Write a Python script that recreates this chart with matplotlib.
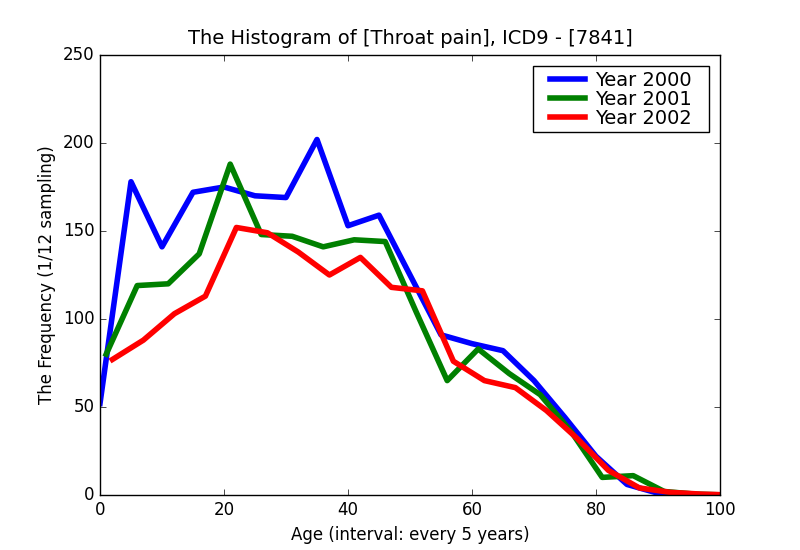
import matplotlib
matplotlib.use("Agg")
import matplotlib.pyplot as plt

plt.style.use("classic")

x2000 = [0, 5, 10, 15, 20, 25, 30, 35, 40, 45, 50, 55, 60, 65, 70, 75, 80, 85, 90, 95, 100]
y2000 = [52, 178, 141, 172, 175, 170, 169, 202, 153, 159, 125, 91, 86, 82, 65, 44, 22, 6, 1, 0, 0]

x2001 = [1, 6, 11, 16, 21, 26, 31, 36, 41, 46, 51, 56, 61, 66, 71, 76, 81, 86, 91, 96, 101]
y2001 = [80, 119, 120, 137, 188, 148, 147, 141, 145, 144, 104, 65, 83, 69, 57, 36, 10, 11, 2, 0.5, 0]

x2002 = [2, 7, 12, 17, 22, 27, 32, 37, 42, 47, 52, 57, 62, 67, 72, 77, 82, 87, 92, 97, 102]
y2002 = [77, 88, 103, 113, 152, 149, 138, 125, 135, 118, 116, 76, 65, 61, 48, 32, 14, 4, 1.5, 0.5, 0]

labels = ["Year 2000", "Year 2001", "Year 2002"]
colors = ["b", "g", "r"]

fig = plt.figure(figsize=(8, 5.5), dpi=100)
ax = fig.add_subplot(111)
ax.plot(x2000, y2000, color=colors[0], lw=4, label=labels[0])
ax.plot(x2001, y2001, color=colors[1], lw=4, label=labels[1])
ax.plot(x2002, y2002, color=colors[2], lw=4, label=labels[2])
ax.set_xlim(0, 100)
ax.set_ylim(0, 250)
ax.set_title("The Histogram of [Throat pain], ICD9 - [7841]", fontsize=14, y=1.01)
ax.set_xlabel("Age (interval: every 5 years)", fontsize=12)
ax.set_ylabel("The Frequency (1/12 sampling)", fontsize=12)

fs = 14
hl = 2.47
leg = ax.legend([s + "  " for s in labels], loc="upper right", fontsize=fs,
                handlelength=hl, handletextpad=0.5, borderpad=0.25, labelspacing=0.0,
                borderaxespad=0.55)
# shorten each handle line so it sits in the right part of its slot (older legend look)
w = hl * fs
for hd in leg.legend_handles:
    xd = list(hd.get_xdata())
    n = len(xd)
    x0, x1 = 0.26 * w, w
    hd.set_xdata([x0 + (x1 - x0) * i / (n - 1) for i in range(n)])
fig.savefig("out.png", dpi=100)
